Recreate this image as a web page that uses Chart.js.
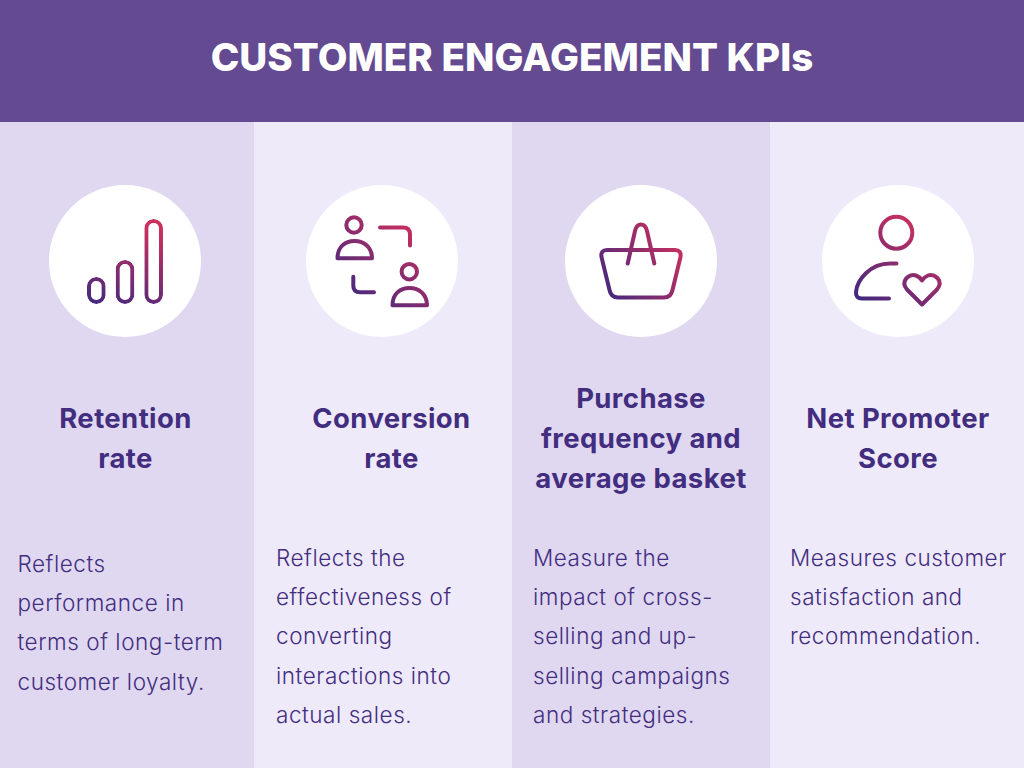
<!DOCTYPE html>
<html>
<head>
<meta charset="utf-8">
<title>Customer Engagement KPIs</title>
<script src="https://cdn.jsdelivr.net/npm/chart.js@4"></script>
<style>
  html, body { margin: 0; padding: 0; }
  body { width: 1024px; height: 768px; overflow: hidden; position: relative; background: #efeafa; font-family: Inter, sans-serif; color: #422d7f; }
  header { position: absolute; left: 0; top: 0; width: 1024px; height: 122px; background: #634a91; }
  h1 { position: absolute; left: 0; width: 1024px; top: 31px; margin: 0; text-align: center; color: #fff; font-size: 38.5px; line-height: 52px; font-weight: 800; letter-spacing: 0.05px; }
  .col { position: absolute; top: 122px; height: 646px; }
  .circle { position: absolute; top: 185px; width: 152px; height: 152px; border-radius: 50%; background: #fff; }
  .head { position: absolute; text-align: center; font-size: 27.5px; line-height: 40px; font-weight: 700; white-space: nowrap; transform: translateX(-50%); letter-spacing: 0.4px; }
  .body { position: absolute; font-size: 22.5px; line-height: 39.2px; font-weight: 300; white-space: nowrap; letter-spacing: 0.55px; }
  #icons { position: absolute; left: 0; top: 0; }
  #icons .s { fill: none; stroke-width: 4; stroke-linecap: round; stroke-linejoin: round; }
  #barIcon { position: absolute; left: 81.5px; top: 213.5px; }
</style>
</head>
<body>
<header><h1 id="title"></h1></header>
<div id="cols"></div>
<svg id="icons" width="1024" height="768" viewBox="0 0 1024 768">
  <defs>
    <linearGradient id="g2" gradientUnits="userSpaceOnUse" x1="350" y1="300" x2="415" y2="225"><stop offset="0" stop-color="#40297f"/><stop offset="1" stop-color="#cd2f5e"/></linearGradient>
    <linearGradient id="g3" gradientUnits="userSpaceOnUse" x1="603" y1="295" x2="680" y2="240"><stop offset="0" stop-color="#40297f"/><stop offset="1" stop-color="#cd2f5e"/></linearGradient>
    <linearGradient id="g4" gradientUnits="userSpaceOnUse" x1="860" y1="300" x2="920" y2="225"><stop offset="0" stop-color="#40297f"/><stop offset="1" stop-color="#cd2f5e"/></linearGradient>
  </defs>
  <g class="s" stroke="url(#g2)">
    <circle cx="354" cy="225" r="7.7"/>
    <path d="M337.5 258.3 C337.5 247 345 241 354.5 241 C364 241 372 247 372 258.3 Z"/>
    <path d="M380 227.5 H403 Q410 227.5 410 234.5 V245.5"/>
    <circle cx="409.3" cy="271.7" r="7.7"/>
    <path d="M392.5 305.3 C392.5 294 400 288 409.5 288 C419 288 427 294 427 305.3 Z"/>
    <path d="M353.3 276.7 V285.5 Q353.3 292.3 360 292.3 H374"/>
  </g>
  <g class="s" stroke="url(#g3)">
    <path d="M607 250 H675 Q681.5 250 680.5 257 L672.5 290 Q671 297.5 664 297.5 H618 Q611 297.5 609.5 290 L601.5 257 Q600.5 250 607 250 Z"/>
    <path d="M627.7 263.5 L635 231 Q636.5 224.5 641 224.5 Q645.5 224.5 647 231 L654.3 263.5"/>
  </g>
  <g class="s" stroke="url(#g4)">
    <circle cx="896.3" cy="232.7" r="16"/>
    <path d="M896.5 263.5 H890 C870 263.5 857 280 856 292 Q855.5 298.5 862 298.5 H889"/>
    <path d="M922 304.5 L907 289.5 C900 281 909 273 916 275.5 Q920 277 922 280.5 Q924 277 928 275.5 C935 273 944 281 937 289.5 Z"/>
  </g>
</svg>
<canvas id="barIcon" width="86" height="90"></canvas>
<script>
// page text
const pageTitle = 'CUSTOMER ENGAGEMENT KPIs';
const kpiNames = [
  ['Retention', 'rate'],
  ['Conversion', 'rate'],
  ['Purchase', 'frequency and', 'average basket'],
  ['Net Promoter', 'Score']
];
const kpiTexts = [
  ['Reflects', 'performance in', 'terms of long-term', 'customer loyalty.'],
  ['Reflects the', 'effectiveness of', 'converting', 'interactions into', 'actual sales.'],
  ['Measure the', 'impact of cross-', 'selling and up-', 'selling campaigns', 'and strategies.'],
  ['Measures customer', 'satisfaction and', 'recommendation.']
];

// bars of the first icon
const barCategories = ['low', 'mid', 'high'];
const barValues = [27, 44, 85];

// layout, per column
const colLeft = [0, 254, 512, 770];
const colWidth = [254, 258, 258, 254];
const colFill = ['#e0d8f1', '#efeafa', '#e0d8f1', '#efeafa'];
const circleCenter = [125, 382, 641, 898];
const headCenter = [125.5, 391.5, 641, 898];
const headTop = [398, 398, 378, 398];
const bodyLeft = [17.5, 276, 533, 790];
const bodyTop = [544, 538, 538, 538];

document.getElementById('title').textContent = pageTitle;
const cols = document.getElementById('cols');
kpiNames.forEach((name, i) => {
  cols.insertAdjacentHTML('beforeend', `
    <div class="col" style="left:${colLeft[i]}px;width:${colWidth[i]}px;background:${colFill[i]}"></div>
    <div class="circle" style="left:${circleCenter[i] - 76}px"></div>
    <div class="head" style="left:${headCenter[i]}px;top:${headTop[i]}px">${name.join('<br>')}</div>
    <div class="body" style="left:${bodyLeft[i]}px;top:${bodyTop[i]}px">${kpiTexts[i].join('<br>')}</div>
  `);
});

new Chart(document.getElementById('barIcon').getContext('2d'), {
  type: 'bar',
  data: {
    labels: barCategories,
    datasets: [{
      data: barValues,
      backgroundColor: 'transparent',
      borderColor: c => {
        const a = c.chart.chartArea;
        if (!a) return '#40297f';
        const g = c.chart.ctx.createLinearGradient(a.left, a.bottom, a.left + 30, a.top);
        g.addColorStop(0, '#40297f');
        g.addColorStop(1, '#cd2f5e');
        return g;
      },
      borderWidth: 4,
      borderSkipped: false,
      borderRadius: 9,
      barPercentage: 0.65,
      categoryPercentage: 1
    }]
  },
  options: {
    responsive: false,
    animation: false,
    scales: {
      x: { display: false },
      y: { display: false, min: 0, max: 90 }
    },
    plugins: { legend: { display: false }, tooltip: { enabled: false } }
  }
});
</script>
</body>
</html>
